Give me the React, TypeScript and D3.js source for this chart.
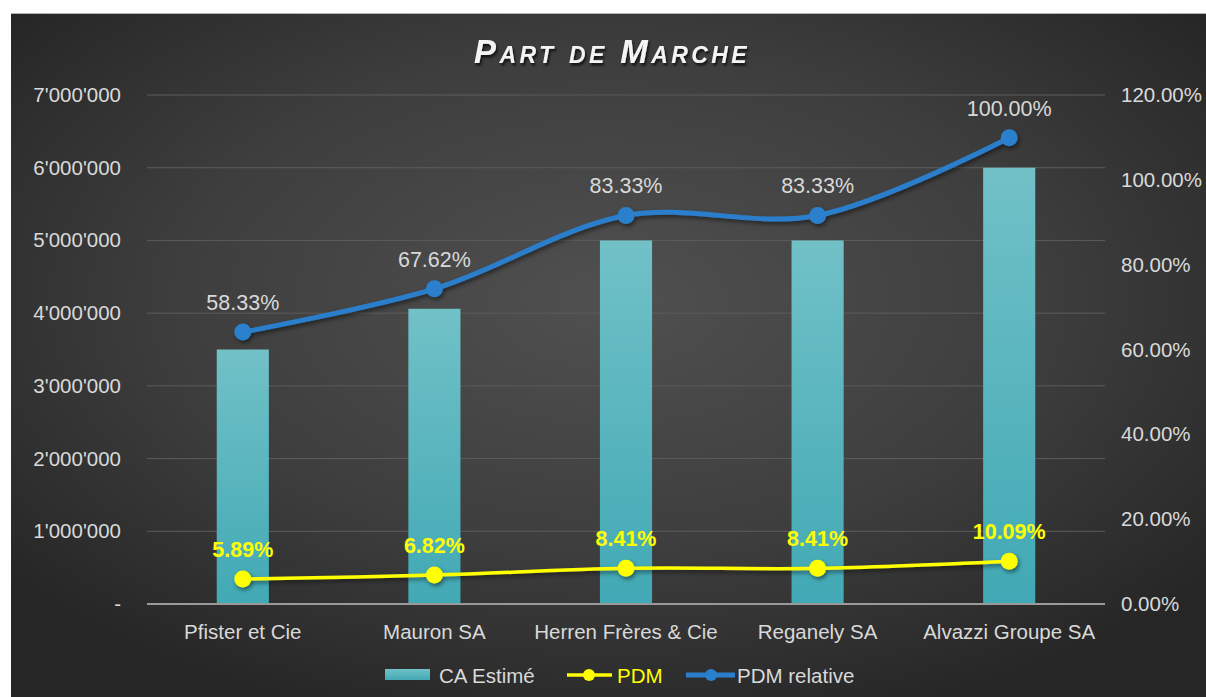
import React from "react";
import * as d3 from "d3";

const categories = ["Pfister et Cie", "Mauron SA", "Herren Frères & Cie", "Reganely SA", "Alvazzi Groupe SA"];
const caEstime = [3500000, 4060000, 5000000, 5000000, 6000000];
const pdm = [0.0589, 0.0682, 0.0841, 0.0841, 0.1009];
const pdmRelativeLabels = [0.5833, 0.6762, 0.8333, 0.8333, 1.0];
const pdmRelativePlotted = [0.641, 0.743, 0.916, 0.916, 1.099];
const leftTicks = [0, 1000000, 2000000, 3000000, 4000000, 5000000, 6000000, 7000000];
const rightTicks = [0, 0.2, 0.4, 0.6, 0.8, 1.0, 1.2];

const W = 1206;
const H = 697;
const plot = { left: 147, right: 1105, top: 95, bottom: 604 };
const FONT = "'Liberation Sans', Arial, sans-serif";

export default function App() {
  const x = d3.scaleBand<string>().domain(categories).range([plot.left, plot.right]).paddingInner(0).paddingOuter(0);
  const yL = d3.scaleLinear().domain([0, 7000000]).range([plot.bottom, plot.top]);
  const yR = d3.scaleLinear().domain([0, 1.2]).range([plot.bottom, plot.top]);
  const cx = (c: string) => (x(c) as number) + x.bandwidth() / 2;
  const barW = x.bandwidth() * 0.272;

  const locale = d3.formatLocale({ decimal: ".", thousands: "'", grouping: [3], currency: ["", ""] });
  const fmtL = (v: number) => (v === 0 ? "-" : locale.format(",")(v));
  const fmtR = d3.format(".2%");

  const lineGen = d3
    .line<[number, number]>()
    .x((d) => d[0])
    .y((d) => d[1])
    .curve(d3.curveCatmullRom.alpha(0.5));

  const bluePts: [number, number][] = categories.map((c, i) => [cx(c), yR(pdmRelativePlotted[i])]);
  const yellowPts: [number, number][] = categories.map((c, i) => [cx(c), yR(pdm[i])]);

  return (
    <svg width={W} height={H} style={{ position: "absolute", left: 0, top: 0, background: "#fff" }}>
      <defs>
        <radialGradient id="bg" cx="50%" cy="42%" r="65%" fx="50%" fy="42%">
          <stop offset="0%" stopColor="#505050" />
          <stop offset="55%" stopColor="#3e3e3e" />
          <stop offset="100%" stopColor="#262626" />
        </radialGradient>
        <linearGradient id="bar" x1="0" y1="0" x2="0" y2="1">
          <stop offset="0%" stopColor="#71c1c7" />
          <stop offset="100%" stopColor="#41a9b5" />
        </linearGradient>
        <filter id="shadow" x="-50%" y="-50%" width="200%" height="200%">
          <feDropShadow dx="1.5" dy="2.5" stdDeviation="2" floodColor="#000" floodOpacity="0.5" />
        </filter>
        <filter id="tshadow" x="-10%" y="-30%" width="120%" height="160%">
          <feDropShadow dx="1.5" dy="2.5" stdDeviation="1.2" floodColor="#000" floodOpacity="0.7" />
        </filter>
      </defs>
      <rect x={11} y={13} width={W - 11} height={H - 13} fill="url(#bg)" />
      <line x1={11} x2={W} y1={13.5} y2={13.5} stroke="#b5b5b5" strokeWidth={1} />

      <text
        x={612}
        y={63}
        textAnchor="middle"
        fill="#f4f4f4"
        filter="url(#tshadow)"
        style={{ fontFamily: FONT, fontSize: 33, fontWeight: 700, fontStyle: "italic", fontVariant: "small-caps", letterSpacing: 3.4 }}
      >
        Part de Marche
      </text>

      {leftTicks.slice(1).map((t) => (
        <line key={t} x1={plot.left} x2={plot.right} y1={yL(t)} y2={yL(t)} stroke="#5c5c5c" strokeWidth={1} />
      ))}

      {caEstime.map((v, i) => (
        <rect key={i} x={cx(categories[i]) - barW / 2} y={yL(v)} width={barW} height={yL(0) - yL(v)} fill="url(#bar)" />
      ))}

      <line x1={plot.left} x2={plot.right} y1={plot.bottom} y2={plot.bottom} stroke="#9a9a9a" strokeWidth={2} />

      {leftTicks.map((t) => (
        <text key={t} x={121} y={yL(t) + 7} textAnchor="end" fill="#d9d9d9" style={{ fontFamily: FONT, fontSize: 20.5 }}>
          {fmtL(t)}
        </text>
      ))}
      {rightTicks.map((t) => (
        <text key={t} x={1121} y={yR(t) + 7} textAnchor="start" fill="#d9d9d9" style={{ fontFamily: FONT, fontSize: 20.5 }}>
          {fmtR(t)}
        </text>
      ))}
      {categories.map((c) => (
        <text key={c} x={cx(c)} y={639} textAnchor="middle" fill="#d9d9d9" style={{ fontFamily: FONT, fontSize: 20.5 }}>
          {c}
        </text>
      ))}

      <g filter="url(#shadow)">
        <path d={lineGen(yellowPts) || ""} fill="none" stroke="#ffff00" strokeWidth={3.5} />
        {yellowPts.map((p, i) => (
          <circle key={i} cx={p[0]} cy={p[1]} r={8.5} fill="#ffff00" />
        ))}
      </g>
      <g filter="url(#shadow)">
        <path d={lineGen(bluePts) || ""} fill="none" stroke="#2a7ecb" strokeWidth={5} />
        {bluePts.map((p, i) => (
          <circle key={i} cx={p[0]} cy={p[1]} r={8.5} fill="#2b80cd" />
        ))}
      </g>

      {yellowPts.map((p, i) => (
        <text key={i} x={p[0]} y={p[1] - 22} textAnchor="middle" fill="#ffff00" style={{ fontFamily: FONT, fontSize: 21.5, fontWeight: 700 }}>
          {fmtR(pdm[i])}
        </text>
      ))}
      {bluePts.map((p, i) => (
        <text key={i} x={p[0]} y={p[1] - 22} textAnchor="middle" fill="#d9d9d9" style={{ fontFamily: FONT, fontSize: 21.5 }}>
          {fmtR(pdmRelativeLabels[i])}
        </text>
      ))}

      <g style={{ fontFamily: FONT, fontSize: 20.5 }}>
        <rect x={385} y={669} width={45} height={11} fill="url(#bar)" />
        <text x={439} y={683} fill="#d9d9d9">CA Estimé</text>
        <line x1={567} x2={612} y1={675} y2={675} stroke="#ffff00" strokeWidth={3.5} />
        <circle cx={589} cy={675} r={6} fill="#ffff00" />
        <text x={617} y={683} fill="#ffff00">PDM</text>
        <line x1={686} x2={735} y1={675} y2={675} stroke="#2a7ecb" strokeWidth={5} />
        <circle cx={711} cy={675} r={6} fill="#2b80cd" />
        <text x={737} y={683} fill="#d9d9d9">PDM relative</text>
      </g>
    </svg>
  );
}
